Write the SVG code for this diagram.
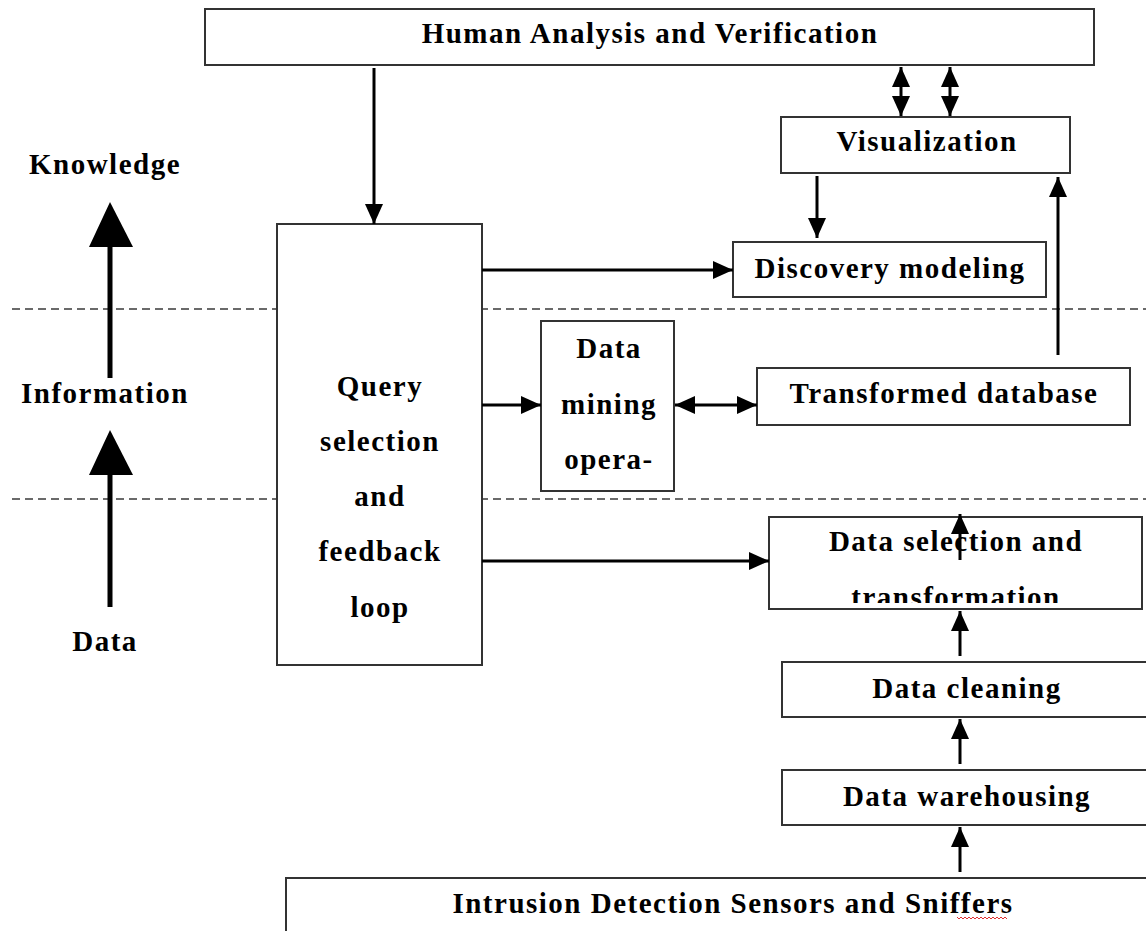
<svg xmlns="http://www.w3.org/2000/svg" width="1146" height="931" viewBox="0 0 1146 931">
  <defs>
    <style>
      .box { fill: #ffffff; stroke: #333333; stroke-width: 2; }
      .lbl { font-family: "Liberation Serif", "Times New Roman", serif; font-weight: bold; font-size: 29px; letter-spacing: 1.5px; fill: #000000; text-anchor: middle; }
      .cn { stroke: #000000; stroke-width: 3; fill: none; }
      .dash { stroke: #3a3a3a; stroke-width: 1.6; stroke-dasharray: 8 5; fill: none; }
    </style>
    <marker id="ah" viewBox="0 0 20 18" refX="20" refY="9" markerWidth="20" markerHeight="18" markerUnits="userSpaceOnUse" orient="auto-start-reverse">
      <path d="M0,0 L20,9 L0,18 z" fill="#000000"/>
    </marker>
    <clipPath id="selClip">
      <rect x="770" y="518" width="371" height="85"/>
    </clipPath>
  </defs>

  <rect width="1146" height="931" fill="#ffffff"/>

  <!-- layer separators -->
  <g id="separators">
    <line class="dash" x1="12" y1="309" x2="1146" y2="309"/>
    <line class="dash" x1="12" y1="499" x2="1146" y2="499"/>
  </g>

  <!-- level labels with their arrows -->
  <g id="levels">
    <text class="lbl" x="105" y="174">Knowledge</text>
    <text class="lbl" x="105" y="403">Information</text>
    <text class="lbl" x="105" y="651">Data</text>
    <line x1="110" y1="245" x2="110" y2="378" stroke="#000" stroke-width="5"/>
    <polygon points="110,202 133,247 89,247" fill="#000"/>
    <line x1="110" y1="473" x2="110" y2="607" stroke="#000" stroke-width="5"/>
    <polygon points="110,430 133,475 89,475" fill="#000"/>
  </g>

  <g id="human">
    <rect class="box" x="205" y="9" width="889" height="56"/>
    <text class="lbl" x="650" y="43">Human Analysis and Verification</text>
  </g>

  <g id="visualization">
    <rect class="box" x="781" y="117" width="289" height="56"/>
    <text class="lbl" x="927" y="151">Visualization</text>
  </g>

  <g id="discovery">
    <rect class="box" x="733" y="242" width="313" height="55"/>
    <text class="lbl" x="890" y="278">Discovery modeling</text>
  </g>

  <g id="query">
    <rect class="box" x="277" y="224" width="205" height="441"/>
    <text class="lbl" x="380" y="396">Query</text>
    <text class="lbl" x="380" y="451">selection</text>
    <text class="lbl" x="380" y="506">and</text>
    <text class="lbl" x="380" y="561">feedback</text>
    <text class="lbl" x="380" y="617">loop</text>
  </g>

  <g id="mining">
    <rect class="box" x="541" y="321" width="133" height="170"/>
    <text class="lbl" x="609" y="358">Data</text>
    <text class="lbl" x="609" y="414">mining</text>
    <text class="lbl" x="609" y="469">opera-</text>
  </g>

  <g id="transformed">
    <rect class="box" x="757" y="368" width="373" height="57"/>
    <text class="lbl" x="944" y="403">Transformed database</text>
  </g>

  <g id="selection">
    <rect class="box" x="769" y="517" width="373" height="92"/>
    <g clip-path="url(#selClip)">
      <text class="lbl" x="956" y="551">Data selection and</text>
      <text class="lbl" x="956" y="607">transformation</text>
    </g>
  </g>

  <g id="cleaning">
    <rect class="box" x="782" y="662" width="380" height="55"/>
    <text class="lbl" x="967" y="698">Data cleaning</text>
  </g>

  <g id="warehousing">
    <rect class="box" x="782" y="770" width="380" height="55"/>
    <text class="lbl" x="967" y="806">Data warehousing</text>
  </g>

  <g id="sensors">
    <rect class="box" x="286" y="878" width="900" height="80"/>
    <text class="lbl" x="733" y="913">Intrusion Detection Sensors and Sniffers</text>
    <path d="M957,917 l2,2 l2,-2 l2,2 l2,-2 l2,2 l2,-2 l2,2 l2,-2 l2,2 l2,-2 l2,2 l2,-2 l2,2 l2,-2 l2,2 l2,-2 l2,2 l2,-2 l2,2 l2,-2 l2,2 l2,-2 l2,2 l2,-2 l2,2" fill="none" stroke="#e03030" stroke-width="1"/>
  </g>

  <!-- connectors -->
  <g id="connectors">
    <line class="cn" x1="374" y1="68" x2="374" y2="224" marker-end="url(#ah)"/>
    <line class="cn" x1="901" y1="67" x2="901" y2="116" marker-start="url(#ah)" marker-end="url(#ah)"/>
    <line class="cn" x1="950" y1="67" x2="950" y2="116" marker-start="url(#ah)" marker-end="url(#ah)"/>
    <line class="cn" x1="817" y1="176" x2="817" y2="238" marker-end="url(#ah)"/>
    <line class="cn" x1="1058" y1="355" x2="1058" y2="177" marker-end="url(#ah)"/>
    <line class="cn" x1="482" y1="270" x2="733" y2="270" marker-end="url(#ah)"/>
    <line class="cn" x1="482" y1="405" x2="541" y2="405" marker-end="url(#ah)"/>
    <line class="cn" x1="675" y1="405" x2="757" y2="405" marker-start="url(#ah)" marker-end="url(#ah)"/>
    <line class="cn" x1="482" y1="561" x2="769" y2="561" marker-end="url(#ah)"/>
    <line class="cn" x1="960" y1="560" x2="960" y2="514" marker-end="url(#ah)"/>
    <line class="cn" x1="960" y1="656" x2="960" y2="611" marker-end="url(#ah)"/>
    <line class="cn" x1="960" y1="764" x2="960" y2="719" marker-end="url(#ah)"/>
    <line class="cn" x1="960" y1="872" x2="960" y2="827" marker-end="url(#ah)"/>
  </g>
</svg>
